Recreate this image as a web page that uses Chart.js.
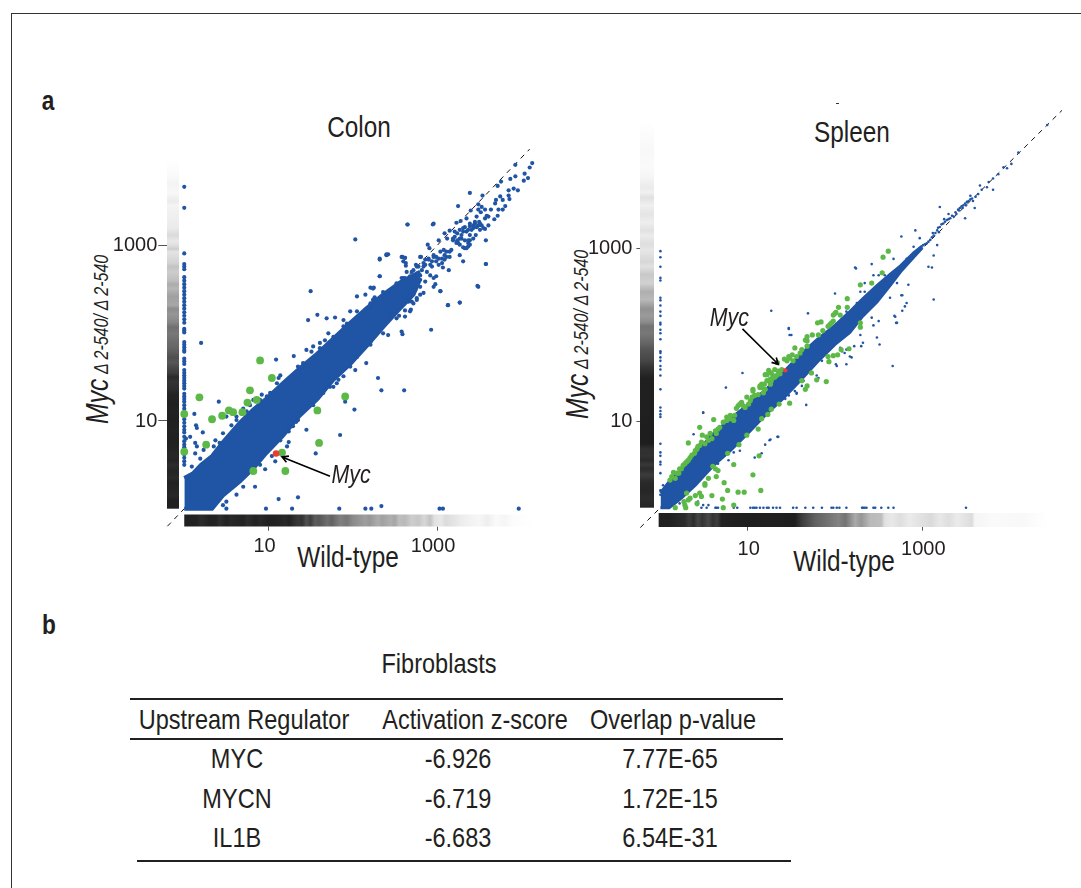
<!DOCTYPE html>
<html>
<head>
<meta charset="utf-8">
<script src="https://cdn.jsdelivr.net/npm/chart.js@4/dist/chart.umd.js"></script>
<style>
  html, body { margin: 0; padding: 0; background: #fff; }
  body { width: 1081px; height: 888px; position: relative; overflow: hidden; color: #231f20;
         font-family: 'Liberation Sans', Arial, sans-serif; }
  canvas { position: absolute; }
  .t { position: absolute; white-space: nowrap; transform: translate(-50%, -50%) scaleX(0.84); line-height: 1; }
  .rule { position: absolute; background: #231f20; height: 2px; }
  .ylab { position: absolute; white-space: nowrap; transform-origin: 0 0; transform: rotate(-90deg) scaleX(0.8); font-style: italic; line-height: 0; }
  .ylab b { font-weight: normal; font-size: 31px; }
  .ylab span { font-size: 20px; }
</style>
</head>
<body>
<div style="position:absolute;left:11px;top:13px;right:0;bottom:0;border-left:1px solid #333;border-top:1px solid #333"></div>
<div class="t" style="left:48px;top:101px;font-weight:bold;font-size:27px">a</div>
<div class="t" style="left:49px;top:625px;font-weight:bold;font-size:27px">b</div>
<div class="t" style="left:359px;top:127px;font-size:29px">Colon</div>
<div class="t" style="left:852px;top:132px;font-size:29px">Spleen</div>
<div class="t" style="left:348px;top:557px;font-size:29px">Wild-type</div>
<div class="t" style="left:844px;top:561px;font-size:29px">Wild-type</div>
<div class="ylab" style="left:98px;top:424px"><b>Myc</b><span> &#916; 2-540/ &#916; 2-540</span></div>
<div class="ylab" style="left:578px;top:419px"><b>Myc</b><span> &#916; 2-540/ &#916; 2-540</span></div>
<div style="position:absolute;left:836px;top:103px;width:3px;height:1px;background:#333"></div>

<canvas id="colon" width="560" height="490" style="left:0;top:90px"></canvas>
<canvas id="spleen" width="521" height="490" style="left:560px;top:90px"></canvas>

<div class="t" style="left:439px;top:664px;font-size:28px">Fibroblasts</div>
<div id="table"></div>

<script>
// all plot values are log10(expression)
var colonBandX    = [0, 0.1, 0.2, 0.33, 0.46, 0.66, 0.82, 0.98, 1.17, 1.37, 1.58, 1.77, 1.97, 2.17, 2.36, 2.56, 2.72, 2.8];
var colonBandHigh = [0.35, 0.40, 0.50, 0.60, 0.76, 0.98, 1.13, 1.26, 1.43, 1.60, 1.77, 1.94, 2.12, 2.29, 2.44, 2.58, 2.66, 2.70];
var colonBandLow  = [0, 0, 0, 0, 0.15, 0.31, 0.46, 0.64, 0.83, 1.06, 1.25, 1.47, 1.65, 1.86, 2.07, 2.28, 2.44, 2.62];

var colonLeftColumn = [3.67,3.43,2.91,2.79,2.76,2.73,2.64,2.60,2.56,2.52,2.48,2.44,2.40,2.36,2.32,2.28,2.24,2.20,2.16,2.12,2.05,2.03,2.01,1.90,1.87,1.84,1.81,1.79,1.71,1.68,1.65,1.58,1.55,1.52,1.49,1.46,1.43,1.40,1.37,1.31,1.28,1.25,1.22,1.18,1.14,1.10,1.06,1.02,0.98,0.94,0.90,0.87,0.82,0.77,0.73,0.70,0.66,0.62,0.58,0.54,0.50];
var colonBottomRow = [0.50,0.97,1.28,1.84,2.15,2.22,3.03,3.07,3.97];

var colonBlue = [
  [4.13,3.94],[4.10,3.89],[4.04,3.82],[4.08,3.77],[4.03,3.74],[3.93,3.92],[3.93,3.79],[3.87,3.76],[3.76,3.73],[3.72,3.68],
  [3.39,3.60],[3.54,3.57],[3.91,3.65],[3.96,3.63],[3.85,3.63],[3.85,3.57],[3.86,3.53],[3.75,3.56],[3.70,3.52],[3.69,3.48],
  [3.78,3.52],[3.49,3.47],[3.25,3.45],[3.81,3.45],[3.78,3.41],[3.73,3.41],[3.64,3.41],[3.57,3.41],[3.53,3.44],[3.49,3.41],
  [3.40,3.40],[3.72,3.34],[3.68,3.30],[3.59,3.34],[3.52,3.38],[3.47,3.33],[3.35,3.31],[3.28,3.28],[3.23,3.26],[2.96,3.25],
  [2.65,3.24],[3.61,3.23],[3.57,3.19],[3.51,3.18],[3.45,3.25],[3.39,3.22],[3.33,3.21],[3.27,3.18],[3.24,3.14],[3.15,3.17],
  [3.09,3.14],[3.02,3.06],[3.12,3.08],[3.19,3.06],[3.25,3.03],[3.31,2.98],[3.37,2.99],[3.43,3.08],[3.46,3.12],[3.58,3.06],
  [3.39,3.06],[2.89,3.01],[2.91,2.97],[2.96,2.89],[3.04,2.93],[3.08,2.95],[3.17,2.95],[3.15,2.87],[3.09,2.84],[3.02,2.85],
  [3.27,2.89],[3.31,2.82],[3.58,2.79],[3.14,2.72],[3.07,2.75],[3.02,2.78],[2.94,2.82],[2.86,2.84],[2.80,2.87],[2.75,2.78],
  [2.63,2.77],[2.59,2.87],[2.62,2.86],[2.60,2.82],[2.42,2.90],[2.40,2.89],[2.32,2.85],[2.32,2.65],[2.21,2.52],[2.25,2.52],
  [2.98,2.56],[3.04,2.48],[3.49,2.53],[3.13,2.32],[3.27,2.35],[2.99,2.65],[2.92,2.66],[2.96,2.63],[2.86,2.59],[2.80,2.53],
  [2.76,2.68],[2.68,2.65],[2.70,2.70],[2.80,2.44],[2.76,2.40],[2.70,2.36],[2.69,2.27],[2.62,2.26],[2.55,2.20],[2.26,2.41],
  [2.36,2.47],[2.64,2.57],[2.70,2.55],[2.74,2.49],[2.66,2.42],[2.60,2.34],[2.58,2.63],[2.64,2.70],[2.86,2.78],[2.82,2.72],
  [2.90,2.85],[2.92,2.78],[2.99,2.87],[3.11,2.93],[3.21,3.10],[3.29,3.12],[3.35,3.16],[3.41,3.18],[3.47,3.21],[3.53,3.23],
  [3.37,3.06],[3.33,2.97],[3.27,3.08],[3.39,3.12],[3.23,3.03],[3.61,3.33],[3.57,3.31],[3.50,3.27],[3.43,3.23],
  [0.20,1.89],[0.12,1.08],[0.41,1.22],[0.14,0.95],[0.15,0.92],[0.22,0.87],[0.50,1.05],[0.62,1.01],[1.09,1.70],[1.14,1.52],
  [1.12,1.49],[1.30,1.74],[1.50,2.48],[1.47,2.15],[1.58,2.21],[1.69,2.17],[1.79,2.18],[2.03,3.07],[2.05,2.42],[2.15,2.44],
  [2.24,2.51],[2.32,2.84],[2.40,2.90],[2.32,2.65],[2.65,3.24],[2.95,3.24],[2.58,2.87],[2.62,2.86],[2.63,2.80],[2.81,2.87],
  [3.58,2.79],[3.48,2.54],[3.04,2.48],[3.13,2.32],[3.27,2.35],[2.93,2.04],[2.58,2.02],[2.59,1.99],[2.42,1.98],[2.30,2.02],
  [2.30,1.49],[2.34,1.35],[2.61,1.35],[2.02,1.13],[1.91,1.22],[2.16,1.66],[2.21,1.87],[1.97,1.62],[2.03,1.58],[1.99,1.68],
  [1.83,1.47],[1.73,1.39],[1.71,1.49],[1.61,1.30],[1.37,1.11],[1.45,0.90],[1.24,0.88],[1.85,0.84],[1.56,0.63],[1.24,0.76],
  [1.22,0.71],[0.90,0.50],[0.84,0.25],[0.70,0.25],[0.62,0.16],[0.50,0.08],[0.46,0.04],[0.96,0.45],[1.08,0.54],[1.04,0.60],
  [2.34,0.03],[1.12,0.11],[1.35,0.13],
  [0.13,0.75],[0.15,0.71],[0.02,0.80],[0.07,0.82],[0.13,0.63],[0.19,0.57],[0.09,0.48],[0.23,0.67],[0.37,0.78],[0.42,0.75],
  [0.52,0.82],[0.56,0.95],[0.70,1.14],[0.78,1.18],[0.90,1.24],[0.92,1.30],[1.02,1.32],[1.10,1.43],[1.24,1.47],[1.35,1.62],
  [1.45,1.81],[1.51,1.79],[1.61,1.89],[1.71,2.00],[1.73,1.90],[1.89,2.08],[1.97,2.25],[2.15,2.27],[2.24,2.38],
  [1.29,0.94],[1.14,0.78],[1.35,1.01],[1.53,1.18],[1.81,1.43],[2.05,1.73],[2.24,2.00],[2.44,2.19],[2.68,2.25],[2.76,2.38],[2.84,2.46],[2.96,2.53],
  [2.72,2.72],[2.78,2.76],[2.84,2.76],[2.90,2.84],[2.96,2.87],[2.94,2.76],[2.99,2.82],[3.06,2.85],[3.11,2.87],[3.15,2.93],
  [3.09,2.89],[3.06,2.80],[2.88,2.70],[2.80,2.66],[2.74,2.63],[2.68,2.59],[2.60,2.63],[2.56,2.57],[2.50,2.51],[2.44,2.49],
  [2.40,2.46],[2.64,2.51],[2.72,2.57],[2.78,2.59],[2.72,2.45],[2.66,2.36],[2.56,2.32],[2.50,2.25],[2.44,2.21],[2.36,2.19],
  [3.21,3.16],[3.31,3.16],[3.37,3.18],[3.43,3.20],[3.49,3.23],[3.55,3.20],[3.51,3.25],[3.45,3.27],[3.39,3.25],[3.31,3.20],
  [3.29,3.08],[3.33,3.06],[3.37,3.03],[3.35,2.97],[3.39,3.01],[3.27,3.01],[3.24,3.06],[3.19,3.08],
  [1.53,1.85],[1.61,1.83],[1.67,1.92],[1.77,1.96],[1.89,2.15],[1.93,2.11],[2.05,2.25],[2.21,2.34],[2.28,2.38],[2.38,2.42],
  [2.46,2.49],[2.52,2.57],[2.62,2.63],[2.76,2.76],[2.84,2.80],[2.80,2.61],
  [1.22,0.94],[1.33,0.99],[1.45,1.16],[1.65,1.32],[1.77,1.39],[1.89,1.51],[2.13,1.83],[2.21,1.90],[2.36,2.00],[2.52,2.17],
  [2.62,2.19],[2.72,2.34],
  [0.35,0.71],[0.46,0.86],[0.62,1.05],[0.74,1.11],[0.82,1.24],[0.98,1.28],[1.14,1.39],[1.29,1.51],[1.41,1.66]
];
var colonGreen = [
  [0.90,1.69],[1.04,1.49],[0.78,1.35],[0.86,1.24],[0.75,1.21],[0.69,1.10],[0.18,1.27],[0.53,1.12],[0.58,1.10],[0.45,1.06],
  [0.33,1.02],[0,1.08],[0.26,0.73],[0,0.65],[1.91,1.28],[1.58,1.12],[1.60,0.75],[1.16,0.64],[1.20,0.43],[0.82,0.43]
];
var colonRed = [[1.09,0.63]];

var spleenBandX    = [0, 0.1, 0.24, 0.4, 0.6, 0.8, 1.0, 1.2, 1.4, 1.6, 1.8, 2.0, 2.17, 2.32, 2.48, 2.63, 2.75, 2.9, 3.0];
var spleenBandHigh = [0.17, 0.30, 0.44, 0.63, 0.85, 1.03, 1.19, 1.36, 1.56, 1.77, 1.95, 2.11, 2.27, 2.42, 2.57, 2.70, 2.80, 2.95, 3.03];
var spleenBandLow  = [0, 0, 0.11, 0.26, 0.48, 0.66, 0.86, 1.07, 1.26, 1.47, 1.69, 1.89, 2.03, 2.22, 2.38, 2.57, 2.73, 2.90, 3.01];

var spleenLeftColumn = [2.97,2.90,2.79,2.66,2.63,2.43,2.40,2.34,2.27,2.22,2.14,2.12,2.06,2.02,1.95,1.81,1.79,1.74,1.70,1.64,1.60,1.53,1.37,1.16,1.12,1.08,1.05,0.74,0.64,0.60,0.53,0.50,0.40];
var spleenBottomRow = [0.47,0.53,0.63,0.64,0.66,0.72,0.84,0.88,1.03,1.06,1.08,1.10,1.14,1.18,1.22,1.24,1.29,1.33,1.37,1.52,1.56,1.66,1.75,1.85,1.96,1.98,2.02,2.05,2.13,2.31,2.32,2.34,2.36,2.44,2.46,2.53,2.61,2.67,3.50];

var spleenBlue = [
  [3.41,3.45],[3.45,3.49],[3.49,3.52],[3.53,3.55],[3.57,3.58],[3.55,3.61],[3.39,3.40],[3.36,3.37],[3.32,3.35],[3.28,3.33],
  [3.24,3.29],[3.20,3.25],[3.17,3.21],[3.13,3.15],[3.09,3.10],[3.05,3.06],[3.01,3.04],[3.20,3.48],[3.30,3.40],[3.49,3.35],
  [3.60,3.47],[3.81,3.68],[3.66,3.73],[3.68,3.68],[3.76,3.77],[3.81,3.81],[3.93,3.94],[3.97,3.93],[4.02,3.98],[4.10,4.11],
  [4.43,4.43],[3.74,3.71],[3.87,3.86],
  [3.43,3.47],[3.47,3.50],[3.51,3.54],[3.55,3.57],[3.42,3.44],[3.46,3.47],[3.50,3.50],[3.38,3.42],[3.34,3.38],[3.30,3.34],
  [3.26,3.31],[3.22,3.28],[3.18,3.24],[3.15,3.18],[3.11,3.13],[3.07,3.08],[3.03,3.05],[3.25,3.34],[3.19,3.19],[3.12,3.18],
  [3.58,3.55],[3.61,3.60],[3.64,3.63],
  [2.76,3.14],[2.92,3.21],[2.97,3.12],[2.90,3.02],[3.13,2.92],[3.17,3.04],[3.07,2.79],[3.11,2.78],[3.13,2.41],[2.84,2.58],
  [2.82,2.37],[2.80,2.33],[2.76,2.46],[2.69,2.21],[2.71,2.14],[2.48,1.97],[2.51,1.89],[2.50,2.16],[2.42,2.20],[2.66,1.64],
  [2.23,2.78],[2.42,2.82],[2.67,2.88],[2.82,2.88],[2.88,2.90],[2.84,2.85],[2.78,2.81],[2.71,2.73],[2.61,2.62],[2.57,2.69],
  [2.50,2.54],[2.00,2.48],[1.69,2.25],[1.27,2.28],[1.47,2.08],[1.48,2.00],[0.94,1.56],[0.75,1.39],[0.49,1.10],[0.38,0.85],
  [1.25,0.78],[1.35,0.82],[1.14,0.61],[1.67,1.19],[1.56,1.33],[2.13,1.83],[2.08,1.81],[2.02,1.64],[2.13,1.66],[2.19,1.74],
  [1.85,1.70],[2.30,1.87],[2.29,2.00],[2.33,2.23],[2.25,2.22],
  [2.24,2.77],[1.47,2.07],[1.50,2.00],[2.32,1.91],[2.11,1.79],[2.17,1.75],[2.22,1.87],[2.06,1.85],[2.01,1.66],[1.79,1.53],
  [1.81,1.50],[1.64,1.47],[1.62,1.41],[2.77,2.28],[2.68,2.22],[2.70,2.14],[2.77,2.46],[2.44,2.11],[2.63,2.43],[2.71,2.60],
  [2.67,2.66],[2.50,2.69],[2.44,2.69],[2.34,2.60],[2.29,2.50],[2.34,2.50],[2.38,2.46],[2.13,2.27],[2.25,2.37],[2.17,2.14],
  [0.03,0.26],[0,0.20],[0.10,0.32],[0,0.15],[0.22,0.05],[0.49,0.03],[0.42,0.03],[0.55,0.03],[0.43,0.07],[0.72,0.66],
  [0.84,0.64],[0.91,0.66],[0.78,0.55],[0.66,0.51],[0.49,1.10],[1.26,0.79],[1.34,0.82],[1.20,0.73],[1.16,0.63],[1.08,0.58],
  [1.54,1.35],[1.56,1.32],[1.47,1.30],[1.43,1.26]
];
var spleenGreen = [
  [0.45,0.93],[0.61,1.02],[0.32,0.75],[0.48,0.84],[0.66,0.91],[0.64,0.86],[0.59,0.80],[0.55,0.78],[0.51,0.74],[0.45,0.72],
  [0.42,0.68],[0.39,0.63],[0.34,0.58],[0.32,0.55],[0.26,0.49],[0.24,0.45],[0.15,0.41],[0.21,0.40],[0.17,0.34],[0.76,1.05],
  [0.80,1.07],[0.72,0.99],[0.85,1.07],[0.84,1.01],[0.89,1.18],[0.93,1.22],[0.99,1.28],[1.03,1.24],[0.97,1.16],[1.06,1.35],
  [1.16,1.43],[1.20,1.37],[1.12,1.31],[1.26,1.43],[1.22,1.54],[1.29,1.51],[1.37,1.55],
  [0.91,1.20],[0.95,1.18],[0.87,1.15],[1.08,1.30],[1.14,1.39],[1.18,1.33],[1.24,1.47],[1.27,1.47],[1.33,1.53],[1.01,1.20],
  [1.05,1.28],[0.76,1.01],[0.80,1.03],[0.68,0.93],[0.63,0.89],[0.57,0.86],[0.53,0.82],[0.47,0.76],[0.43,0.71],[0.40,0.66],
  [0.36,0.61],[0.30,0.53],[0.28,0.51],[0.22,0.45],[0.19,0.40],[0.13,0.36],[0.11,0.32],
  [1.48,1.21],[1.36,1.20],[1.27,1.14],[1.23,1.08],[1.16,1.03],[1.12,0.91],[0.99,0.84],[0.90,0.73],[0.77,0.63],[0.84,0.50],
  [0.63,0.45],[0.66,0.43],[0.64,0.36],[0.60,0.48],[0.55,0.34],[0.51,0.28],[0.73,0.29],[1.06,0.38],[1.13,0.60],[1.15,0.20],
  [0.77,0.20],[0.96,0.18],[0.89,0.18],[0.45,0.17],[0.40,0.14],[0.47,0.13],[0.59,0.14],[0.71,0.10],[0.84,0.03],[0.72,0],
  [0.42,0.05],[0.34,0.11],[0.30,0.17],[0.27,0.07],[0.32,0.09],[0.28,0.03],[0.17,0],[0.29,0],[0.51,0.26],
  [2.61,2.97],[2.55,2.90],[2.54,2.72],[2.42,2.60],[2.29,2.58],[2.14,2.42],[2.14,2.32],[2.04,2.32],[2.01,2.26],[1.98,2.23],
  [2.06,2.23],[1.98,2.16],[1.96,2.14],[1.92,2.10],[1.84,2.15],[1.80,2.14],[1.86,2.05],[1.81,2.00],[1.74,2.00],[1.68,1.98],
  [1.66,1.94],[1.68,1.87],[1.54,1.85],[1.60,1.79],[1.51,1.77],[1.47,1.75],[1.42,1.72],[1.34,1.68],[1.31,1.60],[1.24,1.59],
  [1.20,1.54],[1.29,1.53],[1.26,1.49],[1.19,1.43],[1.16,1.39],[1.06,1.37],
  [1.27,1.56],[1.35,1.58],[1.39,1.60],[1.31,1.51],[1.22,1.47],[1.14,1.41],[1.48,1.73],[1.52,1.70],[1.56,1.75],[1.62,1.83],
  [1.45,1.70],[1.68,1.93],[1.94,2.12],[2.00,2.25],
  [2.29,2.14],[2.29,2.09],[2.16,1.84],[2.07,1.83],[2.03,1.77],[1.98,1.76],[1.92,1.75],[1.93,1.69],[1.73,1.56],[1.79,1.48],
  [1.90,1.46],[1.68,1.41],[1.62,1.47],[1.66,1.37]
];
var spleenRed = [[1.43,1.59]];

// shading of the marginal strips: position (log10) and grey level
var colonRugYPos  = [0,0.1,0.15,0.3,0.35,0.42,0.5,0.55,0.62,0.7,0.8,0.9,1.0,1.1,1.2,1.3,1.37,1.45,1.5,1.55,1.6,1.67,1.72,1.8,1.85,1.9,2.0,2.07,2.13,2.22,2.28,2.32,2.42,2.51,2.56,2.6,2.7,2.76,2.8,2.93,2.96,3.0,3.05,3.12,3.2,3.3,3.46,3.5,3.6,3.7,3.8,3.98];
var colonRugYGrey = [32,32,40,34,42,36,44,36,40,34,32,34,32,34,32,36,46,52,42,62,70,88,78,95,104,108,120,112,135,150,140,168,160,182,172,190,205,195,210,228,205,222,232,218,235,238,244,235,248,243,250,255];
var colonRugXPos  = [0,0.15,0.2,0.3,0.38,0.42,0.5,0.55,0.7,0.75,0.85,0.9,1.0,1.1,1.2,1.25,1.3,1.35,1.4,1.45,1.5,1.55,1.6,1.7,1.75,1.85,1.93,2.0,2.05,2.15,2.2,2.3,2.35,2.45,2.5,2.55,2.62,2.7,2.78,2.85,2.92,2.97,3.05,3.1,3.2,3.28,3.35,3.5,3.6,3.7,3.8,3.9,4.15];
var colonRugXGrey = [32,34,44,34,36,46,34,40,34,44,34,40,32,34,40,34,46,56,50,80,62,92,86,110,98,128,118,138,145,158,150,172,160,175,165,190,185,205,198,215,195,225,232,220,228,236,240,246,238,250,245,252,255];
var spleenRugYPos  = [0,0.1,0.2,0.3,0.38,0.45,0.5,0.55,0.6,0.68,0.74,0.9,1.2,1.49,1.55,1.64,1.7,1.78,1.83,1.9,2.02,2.1,2.15,2.22,2.3,2.41,2.5,2.6,2.7,2.79,2.85,2.98,3.05,3.15,3.21,3.3,3.4,3.5,3.59,3.65,3.71,3.82,3.95,4.13,4.44];
var spleenRugYGrey = [36,44,38,42,60,44,56,42,50,48,30,30,32,32,40,55,70,78,85,100,120,115,140,155,145,185,175,210,200,225,215,230,222,235,225,238,228,240,225,240,235,245,250,248,254];
var spleenRugXPos  = [-0.02,0.1,0.28,0.33,0.38,0.43,0.48,0.55,0.6,0.65,0.7,1.0,1.3,1.54,1.62,1.7,1.78,1.85,1.95,2.04,2.12,2.23,2.3,2.4,2.53,2.57,2.65,2.75,2.85,2.99,3.1,3.2,3.3,3.4,3.57,3.6,3.8,4.14,4.43];
var spleenRugXGrey = [32,32,44,60,44,70,52,72,50,62,34,30,32,30,60,80,98,105,118,130,115,170,150,185,190,225,232,222,235,225,218,232,222,235,220,245,250,248,255];

var tickValues = [1, 3];
var regulators = ['MYC', 'MYCN', 'IL1B'];
var zScores = ['-6.926', '-6.719', '-6.683'];
var pValues = ['7.77E-65', '1.72E-15', '6.54E-31'];

var BLUE = '#2054a4', GREEN = '#5cb947', RED = '#ee3a34', INK = '#231f20';
var FONT = "'Liberation Sans', Arial, sans-serif";

function pairs(list) {
  return list.map(function(p) { return { x: p[0], y: p[1] }; });
}
function bandLine(xs, ys) {
  return xs.map(function(x, i) { return { x: x, y: ys[i] }; });
}
function leftColumn(ys) {
  return ys.map(function(y) { return { x: 0, y: y }; });
}
function bottomRow(xs) {
  return xs.map(function(x) { return { x: x, y: 0 }; });
}

function strip(ctx, scale, pos, grey, a, b, vertical) {
  var p0 = scale.getPixelForValue(pos[0]);
  var p1 = scale.getPixelForValue(pos[pos.length - 1]);
  var g = vertical ? ctx.createLinearGradient(0, p0, 0, p1) : ctx.createLinearGradient(p0, 0, p1, 0);
  pos.forEach(function(v, i) {
    var c = grey[i];
    g.addColorStop((v - pos[0]) / (pos[pos.length - 1] - pos[0]), 'rgb(' + c + ',' + c + ',' + c + ')');
  });
  ctx.fillStyle = g;
  if (vertical) ctx.fillRect(a, p1, b - a, p0 - p1);
  else ctx.fillRect(p0, a, p1 - p0, b - a);
}

function rugPlugin(cfg) {
  return {
    id: 'rug',
    beforeDatasetsDraw: function(chart) {
      var ctx = chart.ctx, x = chart.scales.x, y = chart.scales.y;
      ctx.save();
      // the ticks start at the plot edge, only the part outside the strips stays
      ctx.fillStyle = '#fff';
      ctx.fillRect(cfg.yLeft, y.top, x.left - cfg.yLeft, y.bottom - y.top);
      ctx.fillRect(x.left, y.bottom, x.right - x.left, cfg.xBottom - y.bottom);
      strip(ctx, y, cfg.yPos, cfg.yGrey, cfg.yLeft, cfg.yRight, true);
      strip(ctx, x, cfg.xPos, cfg.xGrey, cfg.xTop, cfg.xBottom, false);
      ctx.restore();
    },
    afterDatasetsDraw: function(chart) {
      var ctx = chart.ctx, x = chart.scales.x, y = chart.scales.y;
      var x0 = x.getPixelForValue(cfg.tail[0]), y0 = y.getPixelForValue(cfg.tail[1]);
      var x1 = x.getPixelForValue(cfg.head[0]), y1 = y.getPixelForValue(cfg.head[1]);
      var ang = Math.atan2(y1 - y0, x1 - x0);
      ctx.save();
      ctx.strokeStyle = '#000';
      ctx.lineWidth = 1.6;
      ctx.beginPath();
      ctx.moveTo(x0, y0);
      ctx.lineTo(x1, y1);
      ctx.moveTo(x1 - 7 * Math.cos(ang - 0.5), y1 - 7 * Math.sin(ang - 0.5));
      ctx.lineTo(x1, y1);
      ctx.lineTo(x1 - 7 * Math.cos(ang + 0.5), y1 - 7 * Math.sin(ang + 0.5));
      ctx.stroke();
      ctx.fillStyle = INK;
      ctx.font = 'italic 26px ' + FONT;
      ctx.textAlign = 'center';
      ctx.textBaseline = 'middle';
      ctx.translate(x.getPixelForValue(cfg.label[0]), y.getPixelForValue(cfg.label[1]));
      ctx.scale(0.82, 1);
      ctx.fillText('Myc', 0, 0);
      ctx.restore();
    }
  };
}

function axis(max, size, tickLength, padding, labelOffset, isY) {
  return {
    type: 'linear',
    min: 0,
    max: max,
    afterBuildTicks: function(s) { s.ticks = tickValues.map(function(v) { return { value: v }; }); },
    afterFit: function(s) { if (isY) s.width = size; else s.height = size; },
    border: { display: false },
    grid: { drawOnChartArea: false, drawTicks: true, tickLength: tickLength, color: '#555', tickWidth: 1 },
    ticks: {
      autoSkip: false,
      maxRotation: 0,
      padding: padding,
      labelOffset: labelOffset,
      color: INK,
      font: { family: FONT, size: 20 },
      callback: function(v) { return String(Math.pow(10, v)); }
    }
  };
}

function buildPanel(id, d) {
  var ctx = document.getElementById(id).getContext('2d');
  return new Chart(ctx, {
    type: 'scatter',
    data: {
      datasets: [
        { data: pairs(d.red), pointRadius: d.rBig * 0.85, backgroundColor: RED, pointBorderWidth: 0, clip: false },
        { data: pairs(d.green), pointRadius: d.rBig, backgroundColor: GREEN, pointBorderWidth: 0, clip: false },
        { data: pairs(d.blue), pointRadius: d.rSmall, backgroundColor: BLUE, pointBorderWidth: 0, clip: false },
        { data: leftColumn(d.column), pointRadius: d.rSmall, backgroundColor: BLUE, pointBorderWidth: 0, clip: false },
        { data: bottomRow(d.row), pointRadius: d.rSmall, backgroundColor: BLUE, pointBorderWidth: 0, clip: false },
        { type: 'line', data: bandLine(d.bandX, d.bandHigh), fill: '+1', backgroundColor: BLUE, borderColor: BLUE, borderWidth: d.bandEdge, pointRadius: 0, tension: 0, clip: false },
        { type: 'line', data: bandLine(d.bandX, d.bandLow), fill: false, borderColor: BLUE, borderWidth: d.bandEdge, pointRadius: 0, tension: 0, clip: false },
        { type: 'line', data: pairs(d.diagonal), fill: false, borderColor: '#111', borderWidth: 1, borderDash: [5, 5], pointRadius: 0, clip: false }
      ]
    },
    options: {
      responsive: false,
      animation: false,
      devicePixelRatio: 1,
      layout: { padding: d.padding },
      plugins: { legend: { display: false }, tooltip: { enabled: false }, title: { display: false } },
      scales: {
        x: axis(d.max, d.xHeight, d.xTick, d.xPad, d.xOffset, false),
        y: axis(d.max, d.yWidth, d.yTick, d.yPad, 0, true)
      }
    },
    plugins: [rugPlugin(d.rug)]
  });
}

buildPanel('colon', {
  max: 4.15, yWidth: 184.25, xHeight: 71.3, yTick: 26, xTick: 22, xPad: 4, yPad: 1, xOffset: -4,
  padding: { top: 54.7, right: 26.1, left: 0, bottom: 0 },
  rSmall: 2.1, rBig: 3.9, bandEdge: 4,
  bandX: colonBandX, bandHigh: colonBandHigh, bandLow: colonBandLow,
  column: colonLeftColumn, row: colonBottomRow,
  blue: colonBlue, green: colonGreen, red: colonRed,
  diagonal: [[-0.2, -0.2], [4.1, 4.1]],
  rug: { yPos: colonRugYPos, yGrey: colonRugYGrey, xPos: colonRugXPos, xGrey: colonRugXGrey,
         yLeft: 167, yRight: 179, xTop: 424.5, xBottom: 436.5,
         tail: [1.73, 0.37], head: [1.16, 0.59], label: [1.98, 0.38] }
});

buildPanel('spleen', {
  max: 4.65, yWidth: 100.4, xHeight: 72.3, yTick: 24, xTick: 23, xPad: 7, yPad: 4, xOffset: 1,
  padding: { top: 13.2, right: 14.6, left: 0, bottom: 0 },
  rSmall: 1.3, rBig: 2.6, bandEdge: 3,
  bandX: spleenBandX, bandHigh: spleenBandHigh, bandLow: spleenBandLow,
  column: spleenLeftColumn, row: spleenBottomRow,
  blue: spleenBlue, green: spleenGreen, red: spleenRed,
  diagonal: [[-0.23, -0.23], [4.6, 4.6]],
  rug: { yPos: spleenRugYPos, yGrey: spleenRugYGrey, xPos: spleenRugXPos, xGrey: spleenRugXGrey,
         yLeft: 80, yRight: 94, xTop: 423, xBottom: 437,
         tail: [0.94, 2.07], head: [1.35, 1.66], label: [0.79, 2.19] }
});

// table under the panels
var tableEl = document.getElementById('table');
function tableText(txt, left, top) {
  var el = document.createElement('div');
  el.className = 't';
  el.style.left = left + 'px';
  el.style.top = top + 'px';
  el.style.fontSize = '28px';
  el.textContent = txt;
  tableEl.appendChild(el);
}
function tableRule(left, right, top) {
  var el = document.createElement('div');
  el.className = 'rule';
  el.style.left = left + 'px';
  el.style.width = (right - left) + 'px';
  el.style.top = top + 'px';
  tableEl.appendChild(el);
}
tableRule(130, 783, 698);
tableRule(130, 783, 738);
tableRule(137, 791, 860);
tableText('Upstream Regulator', 244, 720);
tableText('Activation z-score', 475, 720);
tableText('Overlap p-value', 673, 720);
var rowTops = [759, 799, 838];
regulators.forEach(function(r, i) {
  tableText(r, 237, rowTops[i]);
  tableText(zScores[i], 458, rowTops[i]);
  tableText(pValues[i], 670, rowTops[i]);
});
</script>
</body>
</html>
